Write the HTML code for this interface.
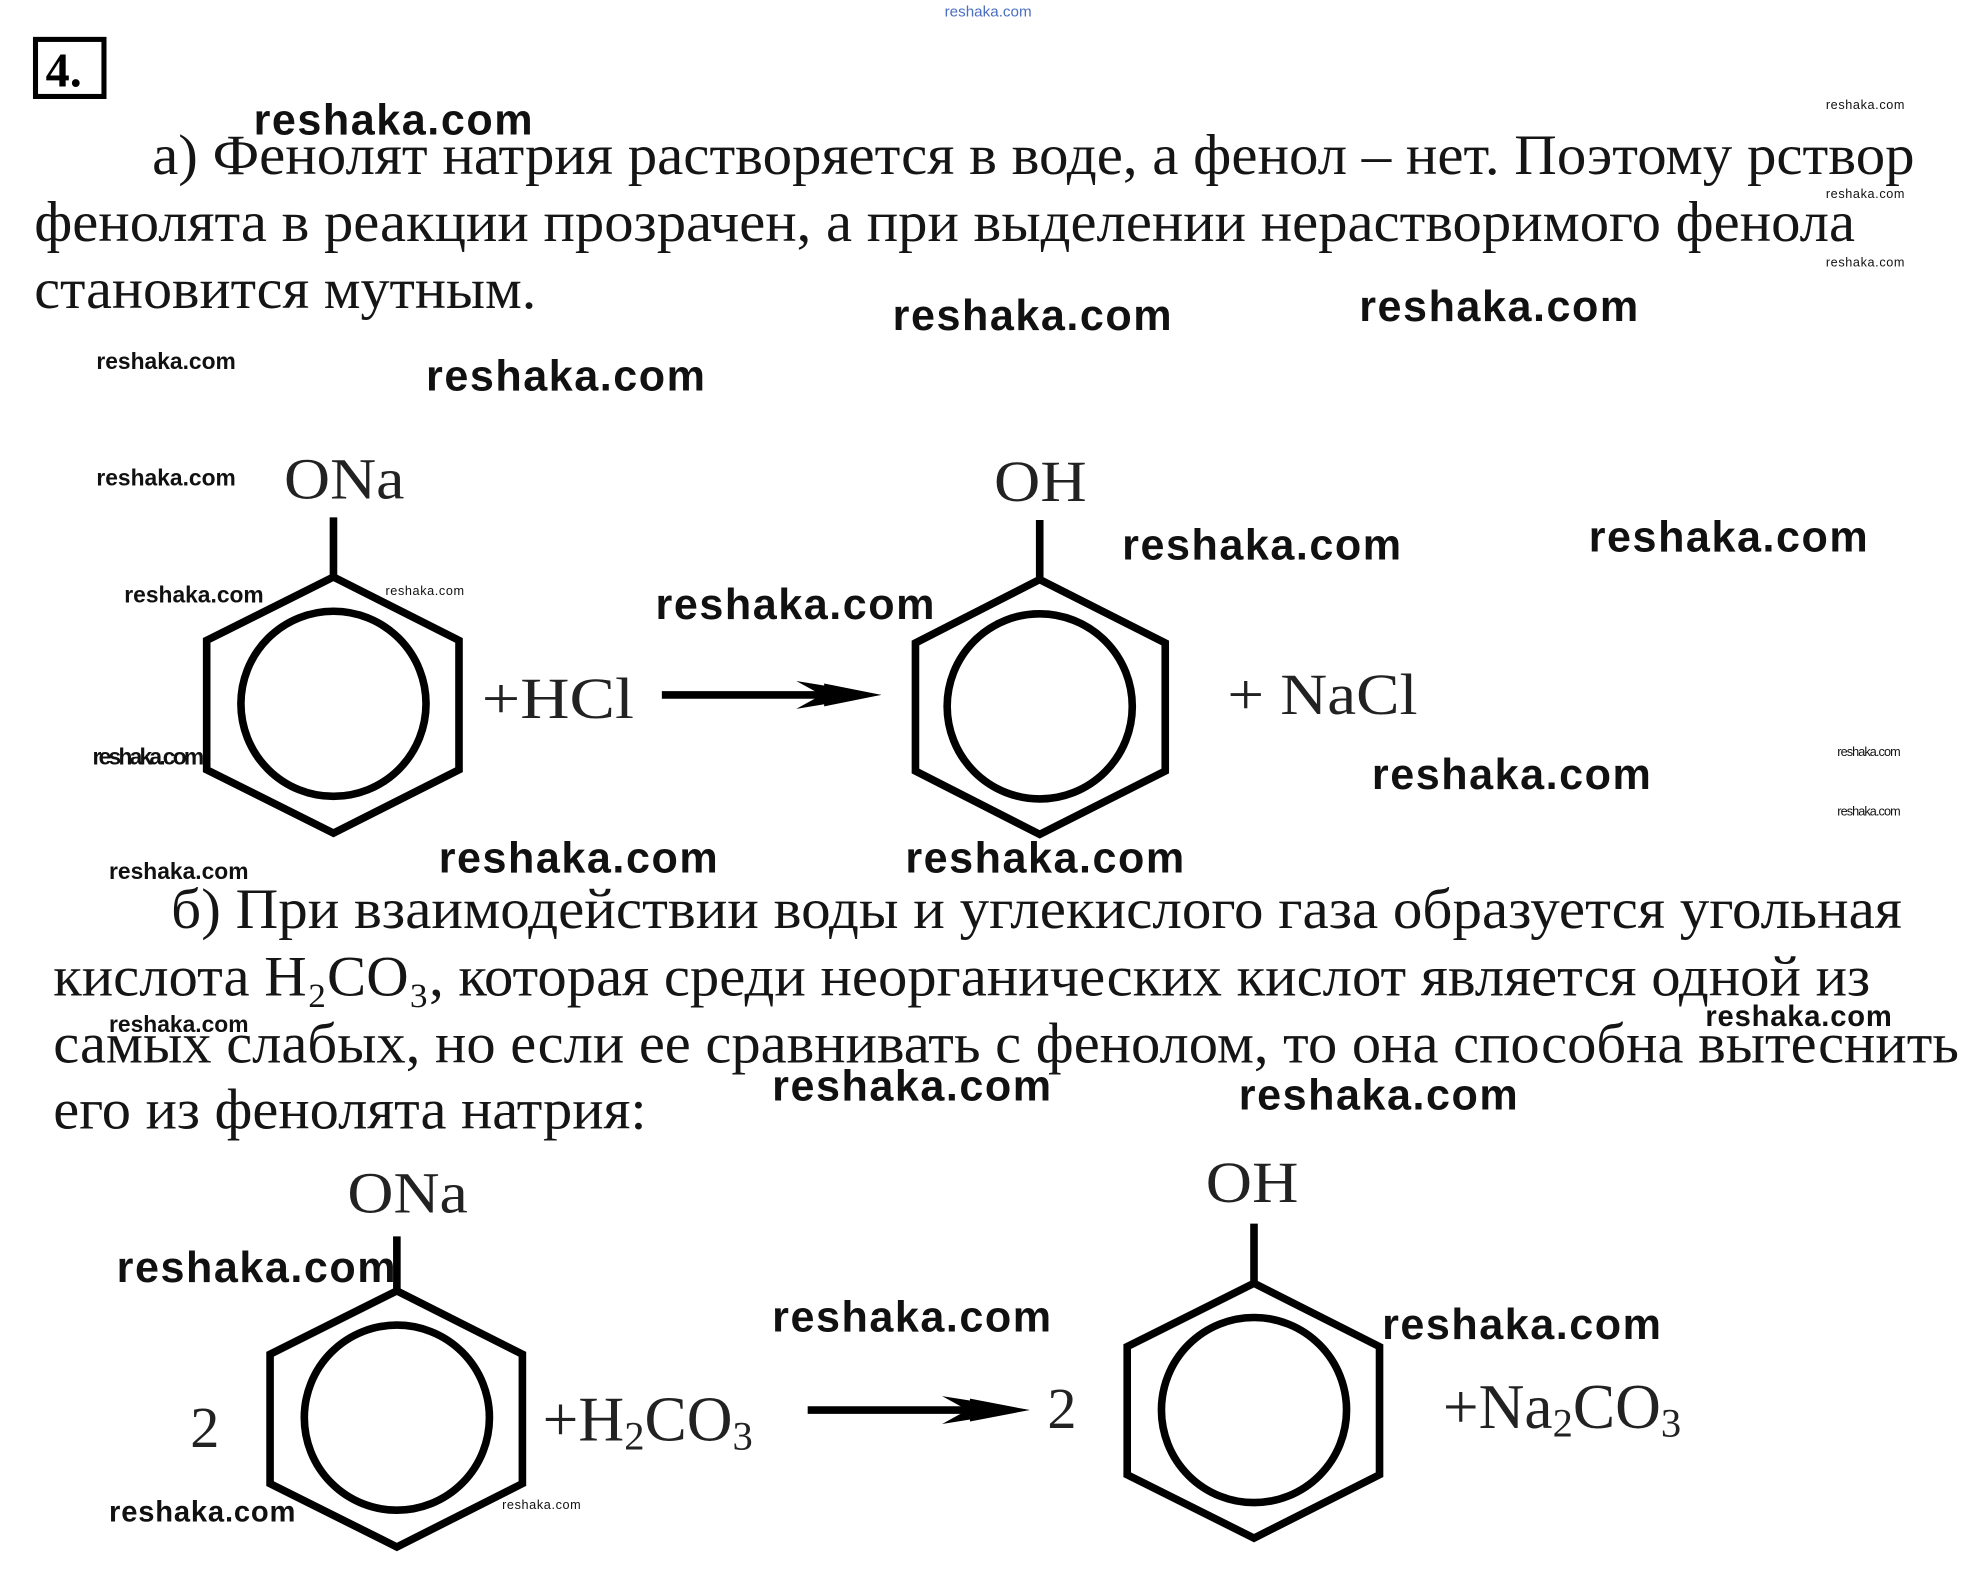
<!DOCTYPE html>
<html><head><meta charset="utf-8"><style>
html,body{margin:0;padding:0;background:#fff;}
svg{display:block;}
.t{font-family:"Liberation Serif",serif;font-size:45px;fill:#151515;}
.w{font-family:"Liberation Sans",sans-serif;font-weight:bold;fill:#111;}
.c{font-family:"Liberation Serif",serif;font-size:46px;fill:#222;}
</style></head><body>
<svg width="1978" height="1594" viewBox="0 0 1560 1257" xmlns="http://www.w3.org/2000/svg">
<rect x="28" y="31" width="54" height="45" fill="none" stroke="#000" stroke-width="4"/>
<text x="36" y="68" style="font-family:'Liberation Serif',serif;font-weight:bold;font-size:38px">4.</text>
<text x="745" y="13" style="font-family:'Liberation Sans',sans-serif;font-size:12px;fill:#4a6fc0">reshaka.com</text>

<text class="t" x="120" y="137" textLength="1390" lengthAdjust="spacingAndGlyphs">а) Фенолят натрия растворяется в воде, а фенол – нет. Поэтому рствор</text>
<text class="t" x="27" y="190" textLength="1436" lengthAdjust="spacingAndGlyphs">фенолята в реакции прозрачен, а при выделении нерастворимого фенола</text>
<text class="t" x="27" y="243" textLength="396" lengthAdjust="spacingAndGlyphs">становится мутным.</text>

<text class="t" x="135" y="732" textLength="1365" lengthAdjust="spacingAndGlyphs">б) При взаимодействии воды и углекислого газа образуется угольная</text>
<text class="t" x="42" y="785" textLength="1433" lengthAdjust="spacingAndGlyphs">кислота H₂CO₃, которая среди неорганических кислот является одной из</text>
<text class="t" x="42" y="838" textLength="1503" lengthAdjust="spacingAndGlyphs">самых слабых, но если ее сравнивать с фенолом, то она способна вытеснить</text>
<text class="t" x="42" y="890" textLength="468" lengthAdjust="spacingAndGlyphs">его из фенолята натрия:</text>

<g fill="none" stroke="#000" stroke-width="6">
<polygon points="263,455 362,505 362,607 263,657 163,607 163,505"/>
<circle cx="263" cy="555" r="73"/>
<line x1="263" y1="455" x2="263" y2="408"/>
<polygon points="820,457 919,507 919,608 820,658 722,608 722,507"/>
<circle cx="820" cy="557" r="73"/>
<line x1="820" y1="457" x2="820" y2="410"/>
<polygon points="313,1018 412,1068 412,1170 313,1220 213,1170 213,1068"/>
<circle cx="313" cy="1118" r="73"/>
<line x1="313" y1="1018" x2="313" y2="975"/>
<polygon points="989,1012 1088,1062 1088,1163 989,1213 889,1163 889,1062"/>
<circle cx="989" cy="1112" r="73"/>
<line x1="989" y1="1012" x2="989" y2="965"/>
<line x1="522" y1="548" x2="670" y2="548"/>
<line x1="637" y1="1112" x2="785" y2="1112"/>
</g>
<polygon points="628,537 695,548 628,559 648,548" fill="#000"/>
<polygon points="650,539 695,548 650,557" fill="#000"/>
<polygon points="743,1101 812,1112 743,1123 763,1112" fill="#000"/>
<polygon points="765,1103 812,1112 765,1121" fill="#000"/>

<text class="c" x="224" y="393" textLength="95" lengthAdjust="spacingAndGlyphs">ONa</text>
<text class="c" x="380" y="566" textLength="120" lengthAdjust="spacingAndGlyphs">+HCl</text>
<text class="c" x="784" y="395" textLength="73" lengthAdjust="spacingAndGlyphs">OH</text>
<text class="c" x="968" y="563" textLength="150" lengthAdjust="spacingAndGlyphs">+ NaCl</text>
<text class="c" x="274" y="956" textLength="95" lengthAdjust="spacingAndGlyphs">ONa</text>
<text class="c" x="150" y="1141">2</text>
<text class="c" x="428" y="1136" style="font-size:50px">+H<tspan font-size="32" dy="7">2</tspan><tspan dy="-7">CO</tspan><tspan font-size="32" dy="7">3</tspan></text>
<text class="c" x="826" y="1126">2</text>
<text class="c" x="951" y="948" textLength="73" lengthAdjust="spacingAndGlyphs">OH</text>
<text class="c" x="1138" y="1126" style="font-size:50px">+Na<tspan font-size="32" dy="7">2</tspan><tspan dy="-7">CO</tspan><tspan font-size="32" dy="7">3</tspan></text>

<g class="w" style="font-size:34px">
<text x="200" y="106" textLength="220">reshaka.com</text>
<text x="704" y="260" textLength="220">reshaka.com</text>
<text x="1072" y="253" textLength="220">reshaka.com</text>
<text x="336" y="308" textLength="220">reshaka.com</text>
<text x="885" y="441" textLength="220">reshaka.com</text>
<text x="1253" y="435" textLength="220">reshaka.com</text>
<text x="517" y="488" textLength="220">reshaka.com</text>
<text x="1082" y="622" textLength="220">reshaka.com</text>
<text x="346" y="688" textLength="220">reshaka.com</text>
<text x="714" y="688" textLength="220">reshaka.com</text>
<text x="609" y="868" textLength="220">reshaka.com</text>
<text x="977" y="875" textLength="220">reshaka.com</text>
<text x="92" y="1011" textLength="220">reshaka.com</text>
<text x="609" y="1050" textLength="220">reshaka.com</text>
<text x="1090" y="1056" textLength="220">reshaka.com</text>
</g>
<g class="w" style="font-size:18px">
<text x="76" y="291" textLength="110">reshaka.com</text>
<text x="76" y="383" textLength="110">reshaka.com</text>
<text x="98" y="475" textLength="110">reshaka.com</text>
<text x="73" y="603" textLength="88">reshaka.com</text>
<text x="86" y="693" textLength="110">reshaka.com</text>
<text x="86" y="814" textLength="110">reshaka.com</text>
</g>
<g class="w" style="font-size:23px">
<text x="1345" y="809" textLength="147">reshaka.com</text>
<text x="86" y="1200" textLength="147">reshaka.com</text>
</g>
<g class="w" style="font-size:10px;font-weight:normal">
<text x="1440" y="86" textLength="62">reshaka.com</text>
<text x="1440" y="156" textLength="62">reshaka.com</text>
<text x="1440" y="210" textLength="62">reshaka.com</text>
<text x="304" y="469" textLength="62">reshaka.com</text>
<text x="1449" y="596" textLength="50">reshaka.com</text>
<text x="1449" y="643" textLength="50">reshaka.com</text>
<text x="396" y="1190" textLength="62">reshaka.com</text>
</g>
</svg>
</body></html>
